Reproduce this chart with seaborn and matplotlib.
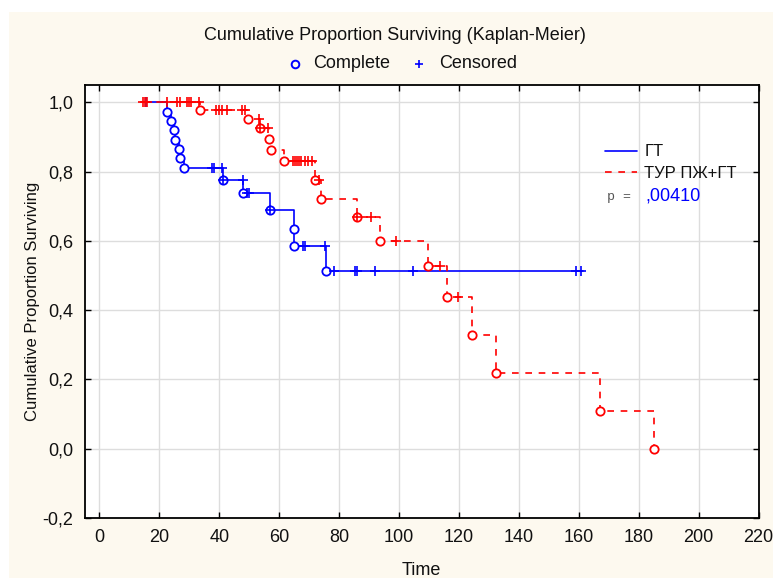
import numpy as np
import matplotlib
matplotlib.use("Agg")
import matplotlib.pyplot as plt
from matplotlib.lines import Line2D
from matplotlib.patches import Rectangle
import seaborn as sns

# ---------------- data ----------------
groups = ["ГТ", "ТУР ПЖ+ГТ"]

gt_start = 15.6
gt_event_t = [22.5, 23.9, 25.0, 25.3, 26.5, 26.9, 28.2, 41.1, 48.0, 57.0, 65.0, 65.1, 75.5]
gt_event_s = [0.973, 0.946, 0.919, 0.892, 0.865, 0.838, 0.811, 0.777, 0.737, 0.689, 0.635, 0.585, 0.512]
gt_cens_t = [15.6, 37.5, 38.2, 40.8, 41.1, 47.8, 49.4, 50.0, 57.0, 68.0, 68.6, 75.2,
             78.2, 85.3, 85.9, 91.9, 104.5, 159.1, 160.6]
gt_end = 161.5

tur_start = 14.5
tur_event_t = [33.5, 49.7, 53.6, 56.7, 57.1, 61.7, 72.1, 74.1, 86.1, 93.8, 109.7, 116.0,
               124.3, 132.5, 167.1, 185.0]
tur_event_s = [0.978, 0.953, 0.925, 0.894, 0.861, 0.830, 0.777, 0.722, 0.668, 0.601, 0.527,
               0.439, 0.329, 0.219, 0.110, 0.0]
tur_cens_t = [14.5, 15.1, 15.7, 22.6, 25.8, 26.9, 29.1, 29.9, 30.6, 33.2,
              38.9, 40.0, 40.8, 42.7, 47.6, 48.6, 53.2, 53.6, 56.1,
              64.7, 65.3, 66.0, 66.6, 67.2, 68.5, 69.7, 70.8, 73.3,
              86.1, 90.8, 99.1, 113.7, 119.8]
tur_end = 185.0

p_value_text = ",00410"
x_ticks = list(range(0, 221, 20))
y_ticks = [-0.2, 0.0, 0.2, 0.4, 0.6, 0.8, 1.0]
y_tick_labels = ["-0,2", "0,0", "0,2", "0,4", "0,6", "0,8", "1,0"]

# ---------------- style ----------------
sns.set_theme(style="whitegrid")
plt.rcParams["font.family"] = ["Liberation Sans", "DejaVu Sans"]

BLUE = "#0000FF"
RED = "#FF0000"
CREAM = "#FDF9EF"
TXT = "#111111"

fig = plt.figure(figsize=(7.73, 5.80), dpi=100)
fig.patch.set_facecolor("white")
fig.patches.append(Rectangle((9 / 773, 2 / 580), 1 - 9 / 773, 1 - 12 / 580 - 2 / 580,
                             transform=fig.transFigure, facecolor=CREAM,
                             edgecolor="none", zorder=-10))
ax = fig.add_axes([84.5 / 773, 1 - 518 / 580, (758.5 - 84.5) / 773, (518 - 85) / 580])
ax.set_facecolor("white")


def step_data(start, ev_t, ev_s, end):
    xs = [start] + list(ev_t) + [end]
    ys = [1.0] + list(ev_s) + [ev_s[-1]]
    return xs, ys


def level_at(t, ev_t, ev_s):
    idx = np.searchsorted(np.array(ev_t), t, side="right")
    return 1.0 if idx == 0 else ev_s[idx - 1]


lw = 1.2
# GT (blue solid)
xs, ys = step_data(gt_start, gt_event_t, gt_event_s, gt_end)
sns.lineplot(x=xs, y=ys, ax=ax, drawstyle="steps-post", color=BLUE, lw=lw,
             estimator=None, sort=False, zorder=3)
sns.scatterplot(x=gt_event_t, y=gt_event_s, ax=ax, marker="o", s=36,
                facecolor="white", edgecolor=BLUE, linewidth=1.3, zorder=4)
gt_cens_s = [level_at(t, gt_event_t, gt_event_s) for t in gt_cens_t]
ax.plot(gt_cens_t, gt_cens_s, ls="none", marker="+", ms=7, mew=1.2, color=BLUE, zorder=5)

# TUR (red dashed)
xs, ys = step_data(tur_start, tur_event_t, tur_event_s, tur_end)
ax.plot(xs, ys, drawstyle="steps-post", color=RED, lw=lw, ls=(0, (4, 4)), zorder=3)
sns.scatterplot(x=tur_event_t, y=tur_event_s, ax=ax, marker="o", s=36,
                facecolor="white", edgecolor=RED, linewidth=1.3, zorder=4)
tur_cens_s = [level_at(t, tur_event_t, tur_event_s) for t in tur_cens_t]
ax.plot(tur_cens_t, tur_cens_s, ls="none", marker="+", ms=7, mew=1.2, color=RED, zorder=5)

# axes
ax.set_xlim(-5, 220)
ax.set_ylim(-0.2, 1.05)
ax.set_xticks(x_ticks)
ax.set_xticklabels([str(v) for v in x_ticks])
ax.set_yticks(y_ticks)
ax.set_yticklabels(y_tick_labels)
ax.grid(True, color="#DDDDDD", lw=1.0)
for sp in ax.spines.values():
    sp.set_visible(True)
    sp.set_color("black")
    sp.set_linewidth(1.3)
ax.tick_params(direction="in", length=4, width=1.0, colors="black",
               top=True, right=True, bottom=True, left=True,
               labelsize=13, pad=8, labelcolor=TXT)
ax.set_xlabel("Time", fontsize=13, labelpad=11.5, color=TXT)
ax.set_ylabel("Cumulative Proportion Surviving", fontsize=12, labelpad=2, color=TXT)

# titles and top legend
fig.text(394.5 / 773, 1 - 35 / 580, "Cumulative Proportion Surviving (Kaplan-Meier)",
         ha="center", va="center", fontsize=13, color=TXT)
fig.add_artist(Line2D([295 / 773], [1 - 64 / 580], marker="o", ms=5.5, mfc="none",
                      mec=BLUE, mew=1.4, ls="none", transform=fig.transFigure))
fig.text(313 / 773, 1 - 63.5 / 580, "Complete", ha="left", va="center", fontsize=13,
         color=TXT)
fig.add_artist(Line2D([419 / 773], [1 - 64 / 580], marker="+", ms=6, mew=1.2,
                      color=BLUE, ls="none", transform=fig.transFigure))
fig.text(439 / 773, 1 - 63.5 / 580, "Censored", ha="left", va="center", fontsize=13,
         color=TXT)

# right legend
handles = [Line2D([0], [0], color=BLUE, lw=lw),
           Line2D([0], [0], color=RED, lw=lw, ls=(0, (4, 4)))]
leg = ax.legend(handles, groups, loc="upper left",
                bbox_to_anchor=(605 / 773, 1 - 144.5 / 580), bbox_transform=fig.transFigure,
                frameon=False, fontsize=12, handlelength=1.9, handletextpad=0.45,
                labelspacing=0.4, borderaxespad=0, borderpad=0)
for t in leg.get_texts():
    t.set_color(TXT)
fig.text(607 / 773, 1 - 197 / 580, "p =", ha="left", va="center", fontsize=9.5,
         family="Liberation Mono", color="#555555")
fig.text(645 / 773, 1 - 196 / 580, p_value_text, ha="left", va="center", fontsize=13,
         color=BLUE)

fig.savefig("out.png", dpi=100)
